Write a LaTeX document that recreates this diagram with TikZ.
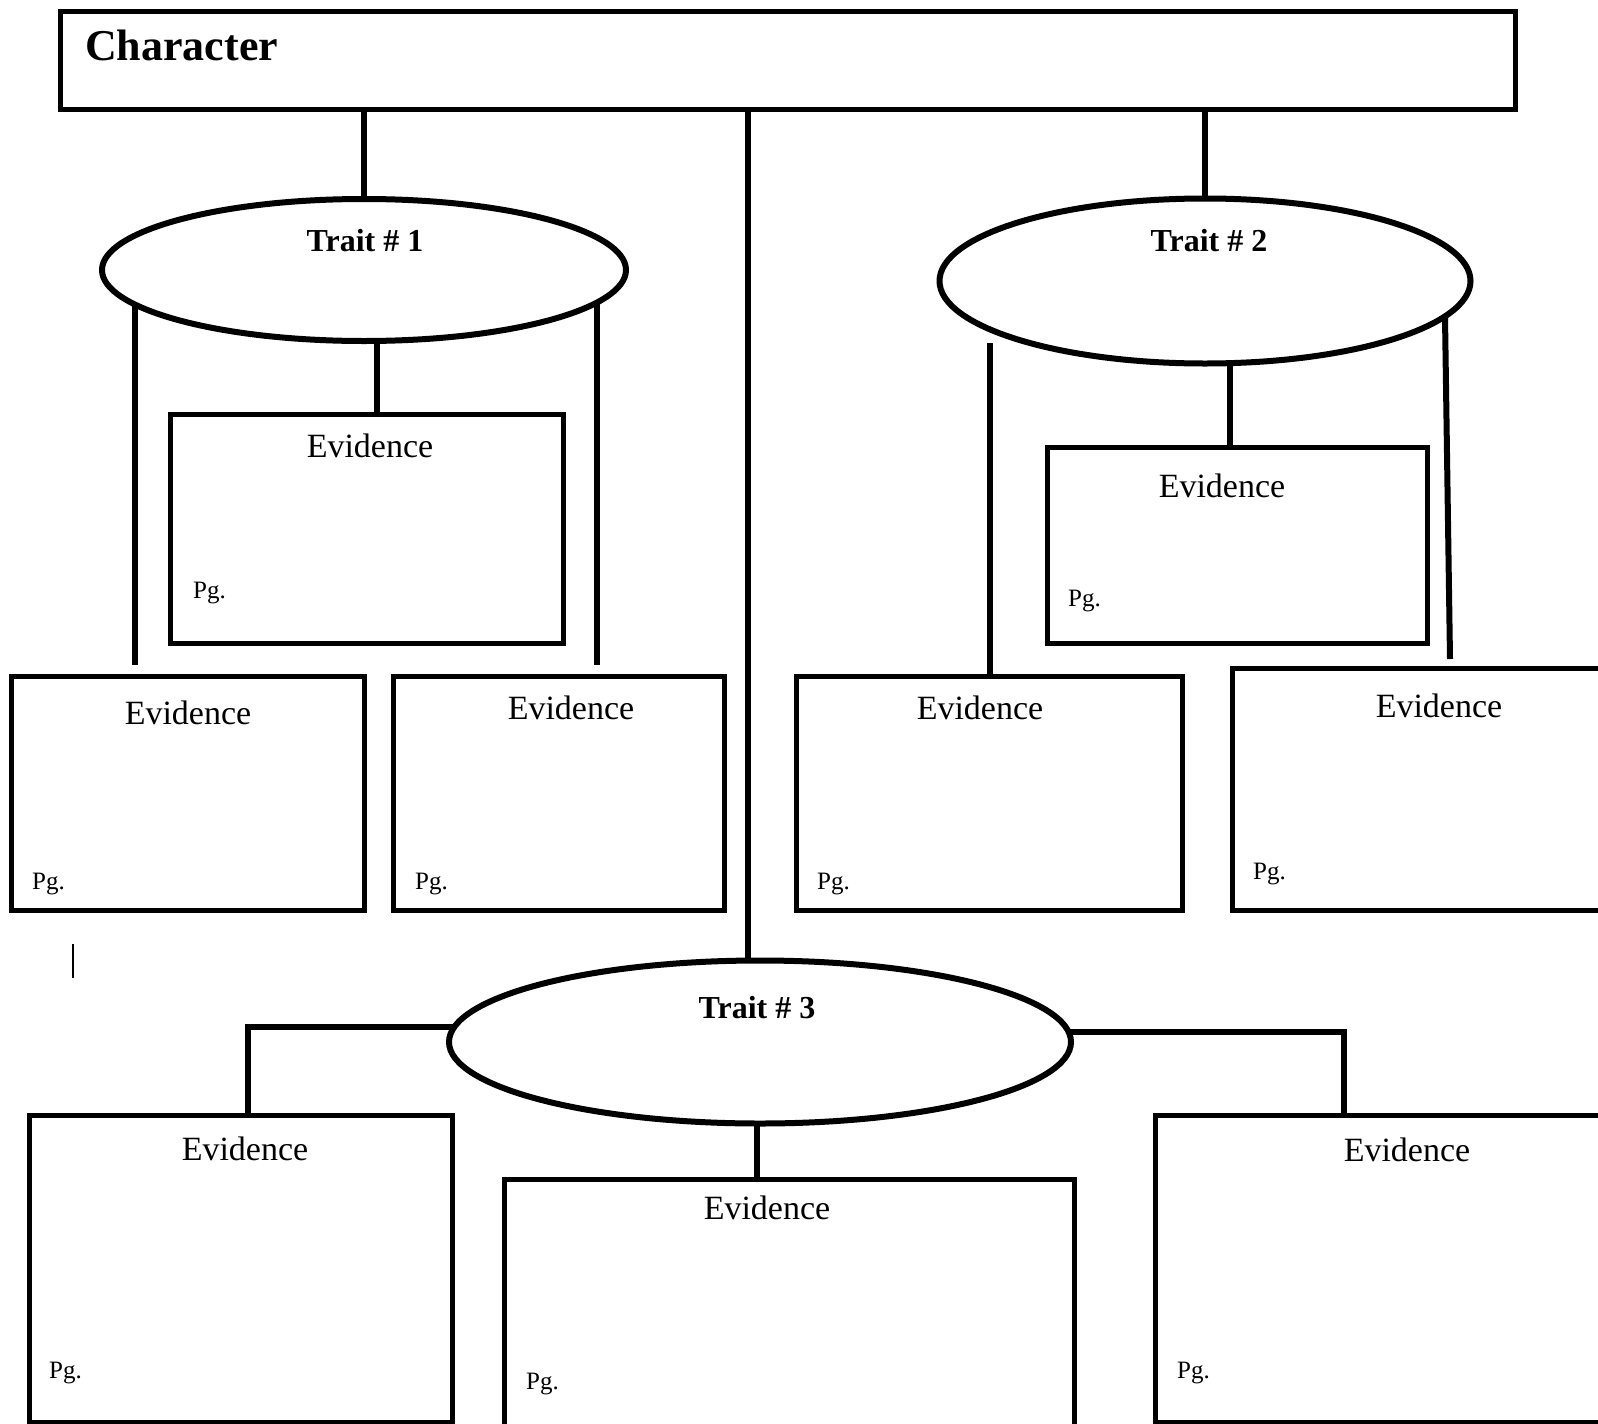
\documentclass[tikz,border=0pt]{standalone}
\usepackage{fontspec}
\setmainfont{Liberation Serif}
\usetikzlibrary{shapes.geometric,backgrounds}
\tikzset{
  evbox/.style={draw, line width=5pt, fill=white, rectangle, inner sep=0pt, anchor=north west},
  trait/.style={draw, ellipse, line width=6pt, fill=white, inner sep=0pt},
  link/.style={line width=6pt},
  evtext/.style={font=\fontsize{34}{40}\selectfont, anchor=base, inner sep=0pt},
  pgtext/.style={font=\fontsize{25}{30}\selectfont, anchor=base west, inner sep=0pt},
  traittext/.style={font=\bfseries\fontsize{32}{38}\selectfont, anchor=base, inner sep=0pt},
  chartext/.style={font=\bfseries\fontsize{44}{50}\selectfont, anchor=base west, inner sep=0pt},
}
\begin{document}
\begin{tikzpicture}[x=1pt,y=-1pt]
\useasboundingbox (0,0) rectangle (1598,1424);
\clip (0,0) rectangle (1598,1424);

% Character box
\node[evbox, minimum width=1455pt, minimum height=98pt] (char) at (58,9) {};
\node[chartext] (chartitle) at (85,60) {Character};

% Traits
\node[trait, minimum width=524pt, minimum height=142pt] (t1) at (364,270) {};
\node[trait, minimum width=531pt, minimum height=165pt] (t2) at (1205,281) {};
\node[trait, minimum width=622pt, minimum height=163pt] (t3) at (760,1042) {};
\node[traittext] (t1txt) at (365,251) {Trait \# 1};
\node[traittext] (t2txt) at (1209,251) {Trait \# 2};
\node[traittext] (t3txt) at (757,1018) {Trait \# 3};

% Evidence boxes
\node[evbox, minimum width=393pt, minimum height=229pt] (b1) at (168,412) {};
\node[evbox, minimum width=353pt, minimum height=234pt] (b2) at (9,674) {};
\node[evbox, minimum width=331pt, minimum height=234pt] (b3) at (391,674) {};
\node[evbox, minimum width=380pt, minimum height=196pt] (b4) at (1045,445) {};
\node[evbox, minimum width=386pt, minimum height=234pt] (b5) at (794,674) {};
\node[evbox, minimum width=420pt, minimum height=242pt] (b6) at (1230,666) {};
\node[evbox, minimum width=423pt, minimum height=307pt] (b7) at (27,1113) {};
\node[evbox, minimum width=570pt, minimum height=247pt] (b8) at (502,1177) {};
\node[evbox, minimum width=500pt, minimum height=307pt] (b9) at (1153,1113) {};

% Evidence labels
\node[evtext] (e1) at (370,457) {Evidence};
\node[evtext] (e2) at (188,724) {Evidence};
\node[evtext] (e3) at (571,719) {Evidence};
\node[evtext] (e4) at (1222,497) {Evidence};
\node[evtext] (e5) at (980,719) {Evidence};
\node[evtext] (e6) at (1439,717) {Evidence};
\node[evtext] (e7) at (245,1160) {Evidence};
\node[evtext] (e8) at (767,1219) {Evidence};
\node[evtext] (e9) at (1407,1161) {Evidence};

% Pg. labels
\node[pgtext] (p1) at (193,598) {Pg.};
\node[pgtext] (p2) at (32,889) {Pg.};
\node[pgtext] (p3) at (415,889) {Pg.};
\node[pgtext] (p4) at (1068,606) {Pg.};
\node[pgtext] (p5) at (817,889) {Pg.};
\node[pgtext] (p6) at (1253,879) {Pg.};
\node[pgtext] (p7) at (49,1378) {Pg.};
\node[pgtext] (p8) at (526,1389) {Pg.};
\node[pgtext] (p9) at (1177,1378) {Pg.};

% stray cursor mark
\draw[line width=2pt] (73,944) -- (73,978);

% Connectors
\coordinate (c3) at (748,0);
\coordinate (t1l) at (135,665);
\coordinate (t1r) at (597,665);
\coordinate (t1m) at (377,0);
\coordinate (t2ls) at (990,343);
\coordinate (t2rs) at (1444.6,290);
\coordinate (t2re) at (1450,659);
\coordinate (t2m) at (1230,0);
\coordinate (t3l) at (248,1027);
\coordinate (t3r) at (1344,1032);
\coordinate (t3m) at (757,0);
\begin{pgfonlayer}{background}
  \draw[link] (char.center -| t1.north) -- (t1.center);
  \draw[link] (char.center -| c3) -- (t3.center -| c3);
  \draw[link] (char.center -| t2.north) -- (t2.center);
  \draw[link] (t1.center -| t1l) -- (t1l);
  \draw[link] (t1.center -| t1r) -- (t1r);
  \draw[link] (t1.center -| t1m) -- (b1.center -| t1m);
  \draw[link] (t2ls) -- (t2ls |- b5.north);
  \draw[link] (t2rs) -- (t2re);
  \draw[link] (t2.center -| t2m) -- (b4.center -| t2m);
  \draw[link] (t3.center |- t3l) -- (t3l) -- (t3l |- b7.center);
  \draw[link] (t3.center |- t3r) -- (t3r) -- (t3r |- b9.center);
  \draw[link] (t3.center -| t3m) -- (b8.center -| t3m);
\end{pgfonlayer}
\end{tikzpicture}
\end{document}
